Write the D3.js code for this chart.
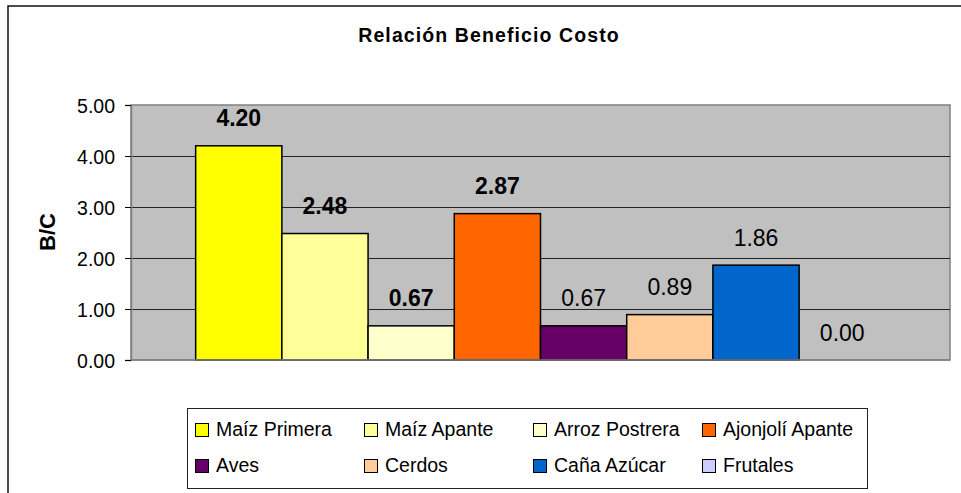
<!DOCTYPE html>
<head>
<meta charset="utf-8">
<style>
body { margin: 0; background: #fff; }
svg { display: block; }
text { font-family: "Liberation Sans", Arial, sans-serif; fill: #000; }
.title { font-weight: bold; font-size: 19.5px; letter-spacing: 1.1px; }
.ylabel { font-weight: bold; font-size: 22px; }
.tick text { font-size: 19.5px; }
.val { font-size: 23px; }
.val.bold { font-weight: bold; }
.legend text { font-size: 19.5px; }
</style>
</head>
<body>
<svg width="961" height="493"></svg>
<script src="https://d3js.org/d3.v7.min.js"></script>
<script>
var categories = ["Maíz Primera", "Maíz Apante", "Arroz Postrera", "Ajonjolí Apante",
                  "Aves", "Cerdos", "Caña Azúcar", "Frutales"];
var values = [4.20, 2.48, 0.67, 2.87, 0.67, 0.89, 1.86, 0.00];
var boldLabel = [true, true, true, true, false, false, false, false];
var colors = ["#FFFF00", "#FFFF99", "#FFFFCC", "#FF6600",
              "#660066", "#FFCC99", "#0066CC", "#CCCCFF"];
var yTicks = [0, 1, 2, 3, 4, 5];

var svg = d3.select("svg");

// chart frame (runs off right/bottom)
svg.append("rect")
    .attr("x", 8).attr("y", 6)
    .attr("width", 1000).attr("height", 1000)
    .attr("fill", "none").attr("stroke", "#111").attr("stroke-width", 1.5);

svg.append("text").attr("class", "title")
    .attr("x", 489).attr("y", 42).attr("text-anchor", "middle")
    .text("Relación Beneficio Costo");

var plot = {left: 131, right: 950, top: 105, bottom: 360};

var y = d3.scaleLinear().domain([0, 5]).range([plot.bottom, plot.top]);
var x = d3.scaleBand().domain(categories)
    .range([plot.left, plot.right])
    .paddingInner(0).paddingOuter(0.75);

svg.append("rect")
    .attr("x", plot.left).attr("y", plot.top)
    .attr("width", plot.right - plot.left).attr("height", plot.bottom - plot.top)
    .attr("fill", "#C0C0C0").attr("stroke", "#808080").attr("stroke-width", 1.5);

// gridlines
svg.append("g").selectAll("line")
    .data(yTicks.filter(function(d) { return d > 0 && d < 5; }))
    .enter().append("line")
    .attr("x1", plot.left).attr("x2", plot.right)
    .attr("y1", function(d) { return y(d) + 0.5; })
    .attr("y2", function(d) { return y(d) + 0.5; })
    .attr("stroke", "#222").attr("stroke-width", 1);

// y axis
var yAxis = svg.append("g")
    .attr("transform", "translate(" + plot.left + ",0)")
    .call(d3.axisLeft(y).tickValues(yTicks).tickFormat(d3.format(".2f"))
        .tickSize(6).tickPadding(10));
yAxis.select(".domain").attr("stroke", "#808080").attr("stroke-width", 1.5);
yAxis.selectAll(".tick line").attr("stroke", "#000");
yAxis.selectAll(".tick text").attr("font-family", null).attr("font-size", null)
    .attr("dy", "0.36em");

svg.append("text").attr("class", "ylabel")
    .attr("transform", "translate(55,232) rotate(-90)")
    .attr("text-anchor", "middle")
    .text("B/C");

// bars
svg.append("g").selectAll("rect")
    .data(values)
    .enter().append("rect")
    .attr("x", function(d, i) { return x(categories[i]); })
    .attr("y", function(d) { return y(d); })
    .attr("width", x.bandwidth())
    .attr("height", function(d) { return y(0) - y(d); })
    .attr("fill", function(d, i) { return colors[i]; })
    .attr("stroke", function(d) { return d > 0 ? "#000" : "none"; })
    .attr("stroke-width", 1.5);

// bottom axis line
svg.append("line")
    .attr("x1", plot.left).attr("x2", plot.right)
    .attr("y1", plot.bottom).attr("y2", plot.bottom)
    .attr("stroke", "#808080").attr("stroke-width", 1.5);

// value labels
svg.append("g").selectAll("text")
    .data(values)
    .enter().append("text")
    .attr("class", function(d, i) { return boldLabel[i] ? "val bold" : "val"; })
    .attr("x", function(d, i) { return x(categories[i]) + x.bandwidth() / 2; })
    .attr("y", function(d) { return y(d) - 19.5; })
    .attr("text-anchor", "middle")
    .text(function(d) { return d3.format(".2f")(d); });

// legend
var legend = svg.append("g").attr("class", "legend");
legend.append("rect")
    .attr("x", 187.5).attr("y", 408.5).attr("width", 680).attr("height", 80)
    .attr("fill", "#fff").attr("stroke", "#222").attr("stroke-width", 1);

var colX = [195, 364, 533, 702], rowY = [423, 459];
var item = legend.selectAll("g.item")
    .data(categories)
    .enter().append("g").attr("class", "item")
    .attr("transform", function(d, i) {
      return "translate(" + colX[i % 4] + "," + rowY[Math.floor(i / 4)] + ")";
    });
item.append("rect")
    .attr("x", 0.5).attr("y", 0.5).attr("width", 13).attr("height", 13)
    .attr("fill", function(d, i) { return colors[i]; })
    .attr("stroke", "#000").attr("stroke-width", 1);
item.append("text")
    .attr("x", 21).attr("y", 12.5)
    .text(function(d) { return d; });
</script>
</body>
